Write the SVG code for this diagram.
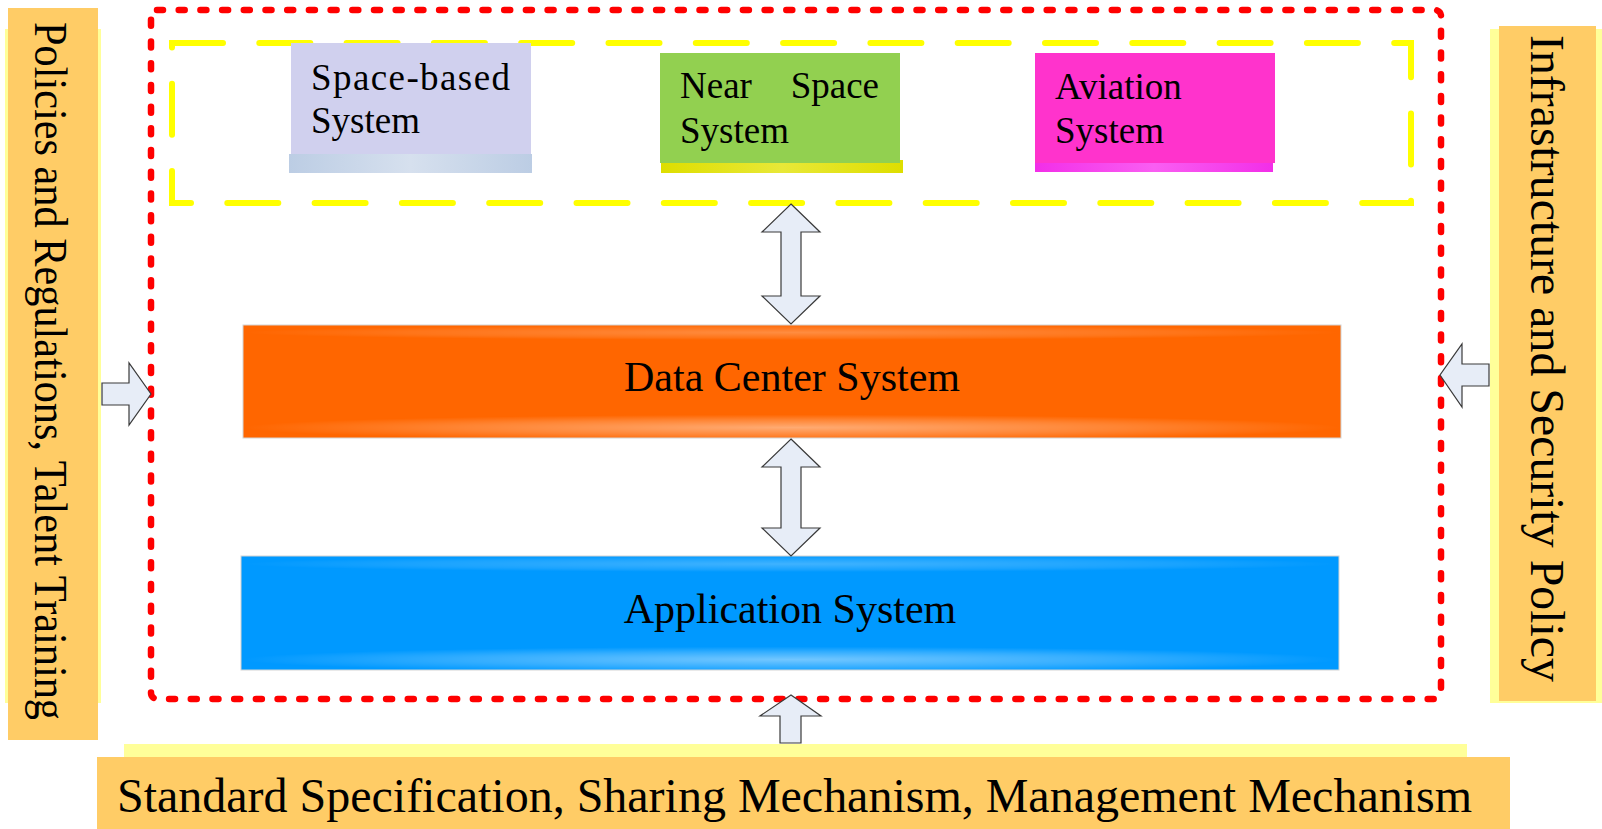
<svg xmlns="http://www.w3.org/2000/svg" width="1602" height="829" viewBox="0 0 1602 829">
  <style>
    .txt { font-family: "Liberation Serif", "Times New Roman", serif; fill: #000; }
    .halo { fill: #ffff99; }
    .panel { fill: #ffcc66; }
    .arrow { fill: #e7edf7; stroke: #3a3a3a; stroke-width: 1.2; stroke-linejoin: miter; }
    .bar-edge { fill: none; stroke: #d4d4d4; stroke-width: 1; }
  </style>
  <defs>
    <radialGradient id="glow" cx="0.5" cy="0.6" r="0.5">
      <stop offset="0" stop-color="#ffffff" stop-opacity="0.45"/>
      <stop offset="0.6" stop-color="#ffffff" stop-opacity="0.2"/>
      <stop offset="1" stop-color="#ffffff" stop-opacity="0"/>
    </radialGradient>
    <radialGradient id="glowSoft" cx="0.5" cy="0.5" r="0.5">
      <stop offset="0" stop-color="#ffffff" stop-opacity="0.25"/>
      <stop offset="0.7" stop-color="#ffffff" stop-opacity="0.1"/>
      <stop offset="1" stop-color="#ffffff" stop-opacity="0"/>
    </radialGradient>
    <linearGradient id="stripLav" x1="0" y1="0" x2="1" y2="0">
      <stop offset="0" stop-color="#bccde4"/>
      <stop offset="0.5" stop-color="#d6e0ee"/>
      <stop offset="1" stop-color="#bccde4"/>
    </linearGradient>
    <linearGradient id="stripYel" x1="0" y1="0" x2="1" y2="0">
      <stop offset="0" stop-color="#dede00"/>
      <stop offset="0.5" stop-color="#e8e838"/>
      <stop offset="1" stop-color="#dede00"/>
    </linearGradient>
    <linearGradient id="stripMag" x1="0" y1="0" x2="1" y2="0">
      <stop offset="0" stop-color="#f22ee8"/>
      <stop offset="0.5" stop-color="#f95ef2"/>
      <stop offset="1" stop-color="#f22ee8"/>
    </linearGradient>
  </defs>

  <!-- side and bottom framework panels -->
  <g id="policies-panel">
    <rect class="halo" x="5" y="29" width="96" height="674"/>
    <rect class="panel" x="8" y="8" width="90" height="732"/>
    <text class="txt" font-size="47" transform="translate(35,22) rotate(90)" textLength="698" lengthAdjust="spacingAndGlyphs">Policies and Regulations, Talent Training</text>
  </g>

  <g id="infrastructure-panel">
    <rect class="halo" x="1490" y="29" width="112" height="674"/>
    <rect class="panel" x="1499" y="26" width="97" height="675"/>
    <text class="txt" font-size="48" transform="translate(1531,35) rotate(90)" textLength="647" lengthAdjust="spacingAndGlyphs">Infrastructure and Security Policy</text>
  </g>

  <g id="standards-panel">
    <rect class="halo" x="124" y="744" width="1343" height="16"/>
    <rect class="panel" x="97" y="757" width="1413" height="72"/>
    <text class="txt" font-size="48" x="117" y="812" textLength="1355" lengthAdjust="spacingAndGlyphs">Standard Specification, Sharing Mechanism, Management Mechanism</text>
  </g>

  <!-- overall system boundary -->
  <g id="system-boundary">
    <rect x="151" y="10" width="1290" height="689" rx="6" fill="none" stroke="#ff0000" stroke-width="6.5" stroke-linecap="round" stroke-dasharray="6 15.7"/>
  </g>

  <!-- acquisition layer -->
  <g id="acquisition-group">
    <rect x="172" y="43" width="1239" height="160" fill="none" stroke="#ffff00" stroke-width="6" stroke-linecap="round" stroke-dasharray="51 36.3"/>
  </g>

  <g id="space-based">
    <rect x="289" y="154" width="243" height="19" fill="url(#stripLav)"/>
    <rect x="291" y="43" width="240" height="111" fill="#d0d0ee"/>
    <text class="txt" font-size="37" x="311" y="90" textLength="199" lengthAdjust="spacing">Space-based</text>
    <text class="txt" font-size="37" x="311" y="133">System</text>
  </g>

  <g id="near-space">
    <rect x="661" y="160" width="242" height="13" fill="url(#stripYel)"/>
    <rect x="660" y="53" width="240" height="110" fill="#92d050"/>
    <text class="txt" font-size="37" x="680" y="98">Near</text>
    <text class="txt" font-size="37" x="879" y="98" text-anchor="end">Space</text>
    <text class="txt" font-size="37" x="680" y="143">System</text>
  </g>

  <g id="aviation">
    <rect x="1035" y="160" width="238" height="12" fill="url(#stripMag)"/>
    <rect x="1035" y="53" width="240" height="110" fill="#ff33cc"/>
    <text class="txt" font-size="37" x="1055" y="99">Aviation</text>
    <text class="txt" font-size="37" x="1055" y="143">System</text>
  </g>

  <!-- data center layer -->
  <g id="data-center">
    <rect x="243" y="325" width="1098" height="113" fill="#ff6600"/>
    <rect x="243" y="325" width="1098" height="15" fill="url(#glowSoft)"/>
    <rect x="243" y="412" width="1098" height="26" fill="url(#glow)"/>
    <rect class="bar-edge" x="243" y="325" width="1098" height="113"/>
    <text class="txt" font-size="42" x="792" y="391" text-anchor="middle">Data Center System</text>
  </g>

  <!-- application layer -->
  <g id="application">
    <rect x="241" y="556" width="1098" height="114" fill="#0099ff"/>
    <rect x="241" y="556" width="1098" height="16" fill="url(#glowSoft)"/>
    <rect x="241" y="644" width="1098" height="26" fill="url(#glow)"/>
    <rect class="bar-edge" x="241" y="556" width="1098" height="114"/>
    <text class="txt" font-size="42" x="790" y="623" text-anchor="middle">Application System</text>
  </g>

  <!-- block arrows between layers and from the framework panels -->
  <g id="connectors">
    <path class="arrow" d="M791,204 L820,232 L801,232 L801,296 L820,296 L791,324 L762,296 L781,296 L781,232 L762,232 Z"/>
    <path class="arrow" d="M791,439 L820,467 L801,467 L801,528 L820,528 L791,556 L762,528 L781,528 L781,467 L762,467 Z"/>
    <path class="arrow" d="M102,383 L129,383 L129,363 L151,394 L129,425 L129,405 L102,405 Z"/>
    <path class="arrow" d="M1489,364 L1462,364 L1462,344 L1440,375 L1462,407 L1462,386 L1489,386 Z"/>
    <path class="arrow" d="M791,695 L821,716 L801,716 L801,743 L780,743 L780,716 L760,716 Z"/>
  </g>
</svg>
